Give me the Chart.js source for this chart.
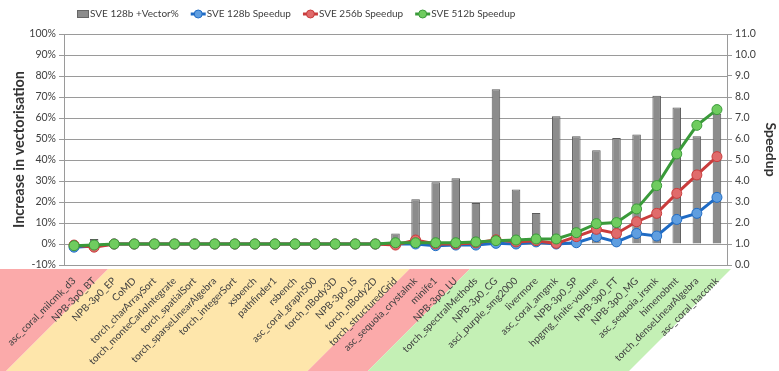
<!DOCTYPE html>
<html>
<head>
<meta charset="utf-8">
<script src="https://cdn.jsdelivr.net/npm/chart.js@4.4.0/dist/chart.umd.min.js"></script>
<style>
  html, body { margin: 0; padding: 0; background: #fff; }
  #wrap { width: 779px; height: 371px; }
</style>
</head>
<body>
<div id="wrap"><canvas id="chart"></canvas></div>
<script>
// ========== Data ==========

const benchmarks = [
    'asc_coral_milcmk_d3', 'NPB-3p0_BT', 'NPB-3p0_EP', 'CoMD', 'torch_charArraySort',
    'torch_monteCarloIntegrate', 'torch_spatialSort', 'torch_sparseLinearAlgebra', 'torch_integerSort',
    'xsbench', 'pathfinder1', 'rsbench', 'asc_coral_graph500', 'torch_nBody3D', 'NPB-3p0_IS',
    'torch_nBody2D', 'torch_structuredGrid', 'asc_sequoia_crystalmk', 'minife1', 'NPB-3p0_LU',
    'torch_spectralMethods', 'NPB-3p0_CG', 'asci_purple_smg2000', 'livermore', 'asc_coral_amgmk',
    'NPB-3p0_SP', 'hpgmg_finite-volume', 'NPB-3p0_FT', 'NPB-3p0_MG', 'asc_sequoia_irsmk',
    'himenobmt', 'torch_denseLinearAlgebra', 'asc_coral_haccmk'
];

const vectorPct = [
    0, 0.024, 0, 0, 0, 0, 0, 0, 0, 0, 0, 0, 0, 0, 0, 0, 0.05,
    0.213, 0.294, 0.313, 0.195, 0.737, 0.26, 0.148, 0.608, 0.513, 0.446,
    0.505, 0.522, 0.706, 0.65, 0.513, 0.62
];

const speedup128 = [
    0.85, 0.9, 1.0, 1.0, 1.0, 1.0, 1.0, 1.0, 1.0, 1.0, 1.0, 1.0, 1.0, 1.0, 1.0, 1.0, 1.0,
    1.0, 0.92, 0.95, 0.95, 1.03, 1.0, 1.1, 1.0, 1.06, 1.35, 1.1, 1.5, 1.38, 2.17, 2.46, 3.22
];

const speedup256 = [
    0.95, 0.85, 1.0, 1.0, 1.0, 1.0, 1.0, 1.0, 1.0, 1.0, 1.0, 1.0, 1.0, 1.0, 1.0, 1.0, 0.95,
    1.19, 1.0, 1.0, 1.05, 1.2, 1.1, 1.16, 1.03, 1.35, 1.7, 1.5, 2.06, 2.46, 3.41, 4.29, 5.16
];

const speedup512 = [
    0.92, 0.95, 1.0, 1.0, 1.0, 1.0, 1.0, 1.0, 1.0, 1.0, 1.0, 1.0, 1.0, 1.0, 1.0, 1.0, 1.06,
    1.06, 1.06, 1.06, 1.1, 1.16, 1.19, 1.24, 1.24, 1.54, 1.97, 2.02, 2.67, 3.78, 5.29, 6.65, 7.4
];

// label background groups: number of benchmarks in each coloured band
const bandCounts = [2, 15, 3, 13];
const bandColors = ['#fbaaaa', '#fee6ab', '#fbaaaa', '#c4f0b5'];

const seriesNames = ['SVE 128b +Vector%', 'SVE 128b Speedup', 'SVE 256b Speedup', 'SVE 512b Speedup'];

// ========== Style ==========

const FONT = 'Lato, "Open Sans", sans-serif';
const TEXT = '#404040';
const GRID = '#9a9a9a';

const lineStyles = [
    { line: '#1f6bc4', fill: '#5f9ee0' },
    { line: '#c93c3c', fill: '#e06b6b' },
    { line: '#3a9a3a', fill: '#6fcc5f' }
];

// ========== Plugins ==========

const bandsPlugin = {
    id: 'bands',
    beforeDraw(chart) {
        const { ctx, chartArea } = chart;
        const x = chart.scales.x;
        const top = chartArea.bottom + 4;
        const bottom = chart.height;
        const drop = bottom - top;
        let start = 0;
        ctx.save();
        bandCounts.forEach((count, i) => {
            let x0 = x.getPixelForValue(start - 0.5) + 4;
            const x1 = x.getPixelForValue(start + count - 0.5) + 4;
            let x0b = x0 - drop;
            if (i === 0) { x0 = 0; x0b = 0; }
            ctx.fillStyle = bandColors[i];
            ctx.beginPath();
            ctx.moveTo(x0, top);
            ctx.lineTo(x1, top);
            ctx.lineTo(x1 - drop, bottom);
            ctx.lineTo(x0b, bottom);
            ctx.closePath();
            ctx.fill();
            start += count;
        });
        ctx.restore();
    }
};

const legendPlugin = {
    id: 'customLegend',
    afterDraw(chart) {
        const ctx = chart.ctx;
        const cy = 14;
        let x = 77;
        ctx.save();
        ctx.font = '10px ' + FONT;
        ctx.textBaseline = 'middle';
        seriesNames.forEach((name, i) => {
            if (i === 0) {
                ctx.fillStyle = '#8c8c8c';
                ctx.strokeStyle = '#666';
                ctx.lineWidth = 1;
                ctx.fillRect(x, cy - 4, 12, 8);
                ctx.strokeRect(x + 0.5, cy - 3.5, 11, 7);
                x += 13;
            } else {
                const s = lineStyles[i - 1];
                ctx.strokeStyle = s.line;
                ctx.lineWidth = 3;
                ctx.beginPath();
                ctx.moveTo(x, cy);
                ctx.lineTo(x + 15, cy);
                ctx.stroke();
                ctx.fillStyle = s.fill;
                ctx.lineWidth = 1;
                ctx.beginPath();
                ctx.arc(x + 7.5, cy, 4, 0, Math.PI * 2);
                ctx.fill();
                ctx.stroke();
                x += 16;
            }
            ctx.fillStyle = TEXT;
            ctx.fillText(name, x, cy);
            x += ctx.measureText(name).width + 12;
        });
        ctx.restore();
    }
};

// ========== Chart ==========

function lineDataset(label, data, style, order) {
    return {
        type: 'line',
        label,
        data,
        yAxisID: 'y1',
        borderColor: style.line,
        backgroundColor: style.fill,
        borderWidth: 3,
        pointRadius: 5,
        pointBorderWidth: 1,
        pointBackgroundColor: style.fill,
        pointBorderColor: style.line,
        tension: 0,
        order
    };
}

const ctx = document.getElementById('chart').getContext('2d');
new Chart(ctx, {
    data: {
        labels: benchmarks,
        datasets: [
            {
                type: 'bar',
                label: seriesNames[0],
                data: vectorPct,
                yAxisID: 'y',
                backgroundColor: '#8c8c8c',
                borderColor: '#5a5a5a',
                borderWidth: 1,
                barPercentage: 0.5,
                categoryPercentage: 0.85,
                order: 4
            },
            lineDataset(seriesNames[1], speedup128, lineStyles[0], 3),
            lineDataset(seriesNames[2], speedup256, lineStyles[1], 2),
            lineDataset(seriesNames[3], speedup512, lineStyles[2], 1)
        ]
    },
    options: {
        responsive: true,
        maintainAspectRatio: false,
        animation: false,
        layout: { padding: { top: 34, left: 0, right: 0, bottom: 0 } },
        plugins: {
            legend: { display: false },
            tooltip: { enabled: false }
        },
        scales: {
            x: {
                grid: { display: false },
                border: { display: true, color: GRID },
                ticks: {
                    autoSkip: false,
                    minRotation: 45,
                    maxRotation: 45,
                    padding: 2,
                    color: TEXT,
                    font: { family: FONT, size: 10 }
                },
                afterFit: s => { s.height = 106; }
            },
            y: {
                position: 'left',
                min: -0.1,
                max: 1.0,
                ticks: {
                    stepSize: 0.1,
                    padding: 3,
                    color: TEXT,
                    font: { family: FONT, size: 10.5 },
                    callback: v => Math.round(v * 100) + '%'
                },
                grid: { color: GRID, tickLength: 5 },
                border: { color: GRID },
                title: {
                    display: true,
                    text: 'Increase in vectorisation',
                    color: '#333',
                    padding: { top: 11, bottom: 2 },
                    font: { family: FONT, size: 14.5, weight: 'bold' }
                },
                afterFit: s => { s.width = 64; }
            },
            y1: {
                position: 'right',
                min: 0,
                max: 11,
                ticks: {
                    stepSize: 1,
                    padding: 3,
                    color: TEXT,
                    font: { family: FONT, size: 10.5 },
                    callback: v => v.toFixed(1)
                },
                grid: { drawOnChartArea: false, color: GRID, tickLength: 5 },
                border: { color: GRID },
                title: {
                    display: true,
                    text: 'Speedup',
                    color: '#333',
                    padding: { top: 0, bottom: 2 },
                    font: { family: FONT, size: 14, weight: 'bold' }
                },
                afterFit: s => { s.width = 52; }
            }
        }
    },
    plugins: [bandsPlugin, legendPlugin]
});
</script>
</body>
</html>
